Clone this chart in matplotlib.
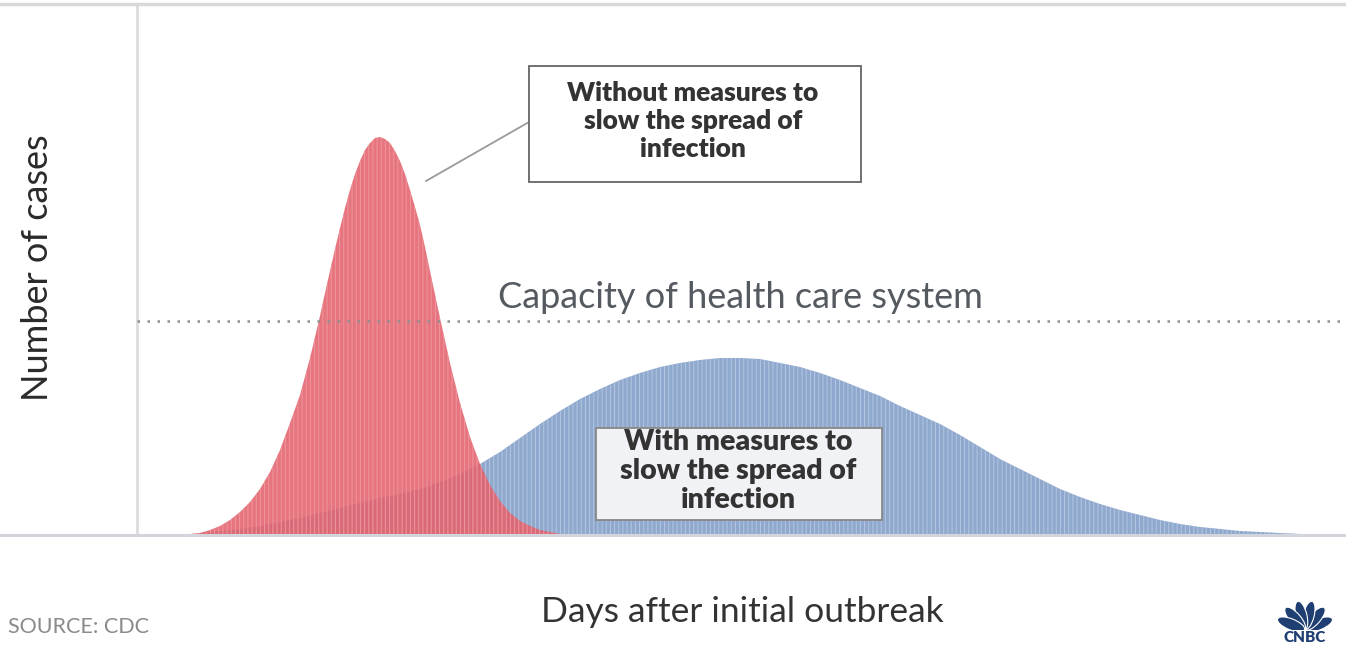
# Flatten-the-curve chart (CNBC / CDC style).

import numpy as np
import matplotlib
matplotlib.use('Agg')
import matplotlib.pyplot as plt
from matplotlib.lines import Line2D
from matplotlib.patches import Rectangle, Ellipse

# Days after outbreak and number of cases (arbitrary units)
red_days = [4, 5, 6, 7, 8, 9, 10, 11, 12, 13, 14, 15, 16, 17, 18,
            18.5, 19, 19.5, 20, 20.5, 21, 21.5, 22, 22.5, 23, 23.5, 24, 24.5,
            25, 25.5, 26, 26.5, 27, 27.5, 28, 28.5, 29,
            30, 31, 32, 33, 34, 35, 36, 37, 38, 39, 40, 41, 42, 43]
red_cases = [0, 1, 2, 5, 9, 15, 23, 33, 46, 63, 85, 112, 140, 177, 219,
             242, 264, 286, 307, 327, 345, 361, 374, 385, 392, 397, 398, 396,
             392, 384, 374, 361, 345, 328, 310, 288, 264,
             217, 172, 132, 98, 71, 50, 34, 22, 14, 9, 5, 3, 1, 0]

blue_days = list(range(6, 120, 2))
blue_cases = [2, 4, 6, 9, 13, 17, 22, 27, 32, 37, 41, 46, 53, 61, 71, 83, 97,
              111, 124, 136, 146, 155, 162, 168, 172, 175, 177, 177, 176, 172,
              168, 162, 155, 147, 139, 129, 120, 111, 100, 88, 76, 66, 56, 46,
              38, 31, 25, 20, 15, 11, 8, 6, 4, 3, 2, 1, 0]

capacity = 214

without_label = 'Without measures to\nslow the spread of\ninfection'
with_label = 'With measures to\nslow the spread of\ninfection'

W, H = 1346, 645
plt.rcParams['font.family'] = ['Lato', 'DejaVu Sans']
plt.rcParams['hatch.linewidth'] = 0.7


def fx(px):
    return px / W


def fy(py):
    return 1 - py / H


fig = plt.figure(figsize=(W / 100, H / 100), dpi=100)
ax = fig.add_axes([fx(137), fy(535), 1 - fx(137), fy(4) - fy(535)])

ax.fill_between(blue_days, 0, blue_cases, facecolor='#8fa8cd',
                edgecolor='#b5c6e0', linewidth=0, hatch='||||', zorder=2)
ax.fill_between(red_days, 0, red_cases, facecolor='#e4626d',
                edgecolor='#f09aa1', linewidth=0, hatch='||||', alpha=0.88,
                zorder=3)

ax.axhline(capacity, color='#8f8f8f', lw=1.8, ls=(0, (1, 3)), zorder=4)

ax.set_xlim(-0.3, 120.6)
ax.set_ylim(0, 531)
ax.set_xticks([])
ax.set_yticks([])
for s in ['top', 'right', 'bottom']:
    ax.spines[s].set_visible(False)
ax.spines['left'].set_color('#dcdcdc')
ax.spines['left'].set_linewidth(2)

# frame lines across the full width
fig.add_artist(Line2D([0, 1], [fy(4), fy(4)], color='#d9d9d9', lw=2.5))
fig.add_artist(Line2D([0, 1], [fy(535), fy(535)], color='#d2d5dc', lw=2.2, zorder=5))

fig.text(fx(740), fy(298), 'Capacity of health care system',
         ha='center', va='center', fontsize=26, color='#555a61')

# annotation boxes
fig.add_artist(Line2D([fx(426), fx(529)], [fy(181), fy(122)], color='#9a9a9a', lw=1.3))
fig.add_artist(Rectangle((fx(529), fy(182)), fx(861) - fx(529), fy(66) - fy(182),
                         transform=fig.transFigure, facecolor='white',
                         edgecolor='#666666', lw=1.3, zorder=6))
fig.text(fx(693), fy(121), without_label, ha='center', va='center', fontsize=19,
         fontweight='heavy', color='#333333', linespacing=1.2, zorder=7)

fig.add_artist(Rectangle((fx(596), fy(520)), fx(882) - fx(596), fy(428) - fy(520),
                         transform=fig.transFigure, facecolor='#f1f2f6',
                         edgecolor='#888888', lw=1.3, zorder=6))
fig.text(fx(738), fy(471), with_label, ha='center', va='center', fontsize=20.5,
         fontweight='heavy', color='#333333', linespacing=1.12, zorder=7)

# axis titles and source
fig.text(fx(38), fy(268), 'Number of cases', rotation=90, ha='center', va='center',
         fontsize=26, color='#2a2a2a')
fig.text(fx(742), fy(612), 'Days after initial outbreak', ha='center', va='center',
         fontsize=25.5, color='#333333')
fig.text(fx(8), fy(627), 'SOURCE: CDC', ha='left', va='center', fontsize=15.5,
         color='#8a8a8a')

# small CNBC peacock mark
lax = fig.add_axes([fx(1270), 0, fx(70), fy(594)])
lax.set_xlim(0, 70)
lax.set_ylim(0, 51)
lax.axis('off')
for ang in [22, 49, 76, 104, 131, 158]:
    r = np.deg2rad(ang)
    lax.add_patch(Ellipse((35 + 15 * np.cos(r), 15 + 15 * np.sin(r)), 29, 11,
                          angle=ang, facecolor='#1f3f73', edgecolor='white', lw=0.8))
lax.add_patch(Rectangle((0, 0), 70, 15, facecolor='white', edgecolor='none'))
lax.text(35, 7, 'CNBC', ha='center', va='center', fontsize=11, fontweight='heavy',
         color='#1f3f73')

fig.savefig('out.png', dpi=100)
